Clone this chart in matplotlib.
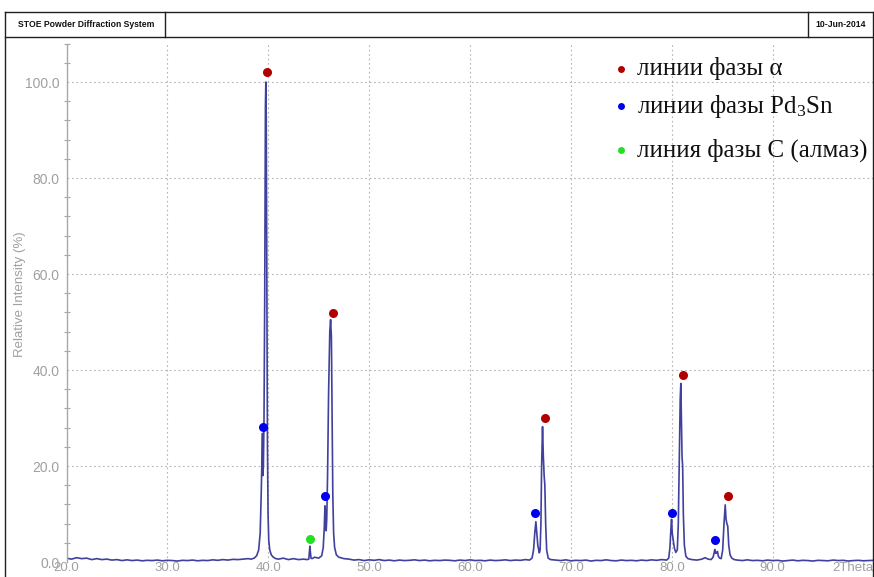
import numpy as np
import matplotlib
matplotlib.use("Agg")
import matplotlib.pyplot as plt
from matplotlib.ticker import FixedLocator, MultipleLocator
from matplotlib.lines import Line2D

plt.rcParams['font.family'] = ['Liberation Sans', 'DejaVu Sans']
plt.rcParams['mathtext.fontset'] = 'custom'
plt.rcParams['mathtext.rm'] = 'Liberation Serif'
plt.rcParams['mathtext.it'] = 'Liberation Serif:italic'

# ---- measured pattern: 2Theta (deg) vs relative intensity (%) ----
# background stretches, sampled every 0.5 deg
bg1_theta = np.arange(20.0, 38.01, 0.5)
bg1_int = [0.8, 0.6, 0.9, 0.7, 0.8, 0.5, 0.7, 0.5, 0.6, 0.4, 0.5, 0.3, 0.45,
           0.3, 0.4, 0.25, 0.35, 0.3, 0.4, 0.25, 0.35, 0.3, 0.2, 0.35, 0.3,
           0.4, 0.25, 0.35, 0.3, 0.45, 0.35, 0.5, 0.4, 0.55, 0.5, 0.6, 0.7]
bg2_theta = np.arange(41.0, 43.51, 0.5)
bg2_int = [0.6, 0.8, 0.5, 0.7, 0.5, 0.6]
bg3_theta = np.arange(48.0, 65.51, 0.5)
bg3_int = [0.6, 0.4, 0.5, 0.3, 0.45, 0.35, 0.5, 0.3, 0.4, 0.25, 0.4, 0.3,
           0.35, 0.45, 0.3, 0.4, 0.25, 0.35, 0.3, 0.4, 0.35, 0.25, 0.4, 0.3,
           0.45, 0.3, 0.35, 0.25, 0.4, 0.3, 0.35, 0.45, 0.3, 0.4, 0.35, 0.5]
bg4_theta = np.arange(68.5, 79.01, 0.5)
bg4_int = [0.4, 0.3, 0.45, 0.25, 0.35, 0.3, 0.4, 0.2, 0.35, 0.3, 0.45, 0.3,
           0.25, 0.4, 0.3, 0.35, 0.25, 0.4, 0.3, 0.45, 0.35, 0.5]
bg5_theta = np.arange(86.5, 100.01, 0.5)
bg5_int = [0.4, 0.3, 0.45, 0.3, 0.35, 0.25, 0.4, 0.3, 0.35, 0.2, 0.3, 0.4,
           0.25, 0.35, 0.3, 0.2, 0.35, 0.3, 0.25, 0.4, 0.3, 0.35, 0.2, 0.3,
           0.35, 0.25, 0.3, 0.35]

# peak groups
pk1_theta = [38.3, 38.6, 38.85, 39.05, 39.2, 39.3, 39.38, 39.43, 39.47, 39.52,
             39.58, 39.65, 39.72, 39.76, 39.80, 39.86, 39.92, 39.98, 40.05,
             40.15, 40.3, 40.5, 40.75]
pk1_int = [0.6, 0.8, 1.3, 2.5, 6.0, 14.0, 22.0, 26.8, 18.0, 20.0,
           30.0, 55.0, 95.0, 100.0, 93.0, 60.0, 25.0, 10.0, 4.5,
           2.5, 1.5, 1.0, 0.7]
pk2_theta = [43.85, 44.02, 44.08, 44.13, 44.18, 44.24, 44.35, 44.6, 45.0,
             45.3, 45.45, 45.55, 45.62, 45.68, 45.74, 45.80, 45.88, 45.98,
             46.10, 46.18, 46.26, 46.33, 46.40, 46.48, 46.58, 46.75, 47.0,
             47.5]
pk2_int = [0.5, 0.6, 2.0, 3.3, 2.0, 0.8, 0.7, 1.0, 0.8,
           1.3, 3.0, 7.0, 11.7, 10.0, 6.5, 9.0, 18.0, 35.0,
           48.0, 50.5, 47.0, 30.0, 14.0, 6.0, 3.0, 1.5, 1.0,
           0.7]
pk3_theta = [65.9, 66.15, 66.3, 66.42, 66.53, 66.62, 66.72, 66.87, 66.95,
             67.03, 67.10, 67.19, 67.27, 67.35, 67.42, 67.50, 67.60, 67.75,
             68.0]
pk3_int = [0.4, 0.8, 2.5, 6.0, 8.4, 6.0, 3.5, 1.9, 2.5,
           8.0, 20.0, 28.2, 22.0, 18.0, 16.0, 8.0, 2.5, 0.8,
           0.5]
pk4_theta = [79.5, 79.7, 79.82, 79.92, 79.98, 80.05, 80.14, 80.25, 80.40,
             80.55, 80.65, 80.75, 80.84, 80.90, 80.96, 81.02, 81.08, 81.15,
             81.25, 81.40, 81.6]
pk4_int = [0.4, 0.8, 3.0, 7.0, 8.9, 6.0, 4.6, 3.0, 2.0,
           2.5, 8.0, 22.0, 34.0, 37.2, 30.0, 22.0, 20.0, 10.0,
           3.5, 1.2, 0.7]
pk5_theta = [82.0, 82.5, 83.0, 83.3, 83.6, 83.9, 84.1, 84.2, 84.27, 84.35,
             84.45, 84.53, 84.62, 84.75, 84.9, 85.05, 85.18, 85.30, 85.38,
             85.46, 85.55, 85.65, 85.78, 85.95, 86.2]
pk5_int = [0.5, 0.4, 0.6, 0.9, 0.6, 0.5, 1.0, 2.0, 2.6, 1.8,
           1.9, 2.2, 1.2, 0.8, 0.7, 2.5, 8.0, 11.9, 9.0,
           8.0, 7.5, 3.5, 1.5, 0.8, 0.5]

two_theta = np.concatenate([bg1_theta, pk1_theta, bg2_theta, pk2_theta,
                            bg3_theta, pk3_theta, bg4_theta, pk4_theta,
                            pk5_theta, bg5_theta])
intensity = np.concatenate([bg1_int, pk1_int, bg2_int, pk2_int,
                            bg3_int, pk3_int, bg4_int, pk4_int,
                            pk5_int, bg5_int])

# ---- phase line markers ----
alpha_theta = [39.87, 46.41, 67.42, 81.07, 85.53]
alpha_int = [102.1, 51.9, 30.0, 39.0, 13.75]
pd3sn_theta = [39.47, 45.62, 66.43, 79.98, 84.27]
pd3sn_int = [28.1, 13.75, 10.2, 10.2, 4.6]
diamond_theta = [44.13]
diamond_int = [4.8]

legend_labels = ['линии фазы α', 'линии фазы Pd$_3$Sn', 'линия фазы С (алмаз)']
legend_colors = ['#b00000', '#0000f0', '#22e022']

x_ticks = [20, 30, 40, 50, 60, 70, 80, 90, 100]
x_ticklabels = ['20.0', '30.0', '40.0', '50.0', '60.0', '70.0', '80.0', '90.0', '2Theta']
y_ticks = [0, 20, 40, 60, 80, 100]
y_ticklabels = ['0.0', '20.0', '40.0', '60.0', '80.0', '100.0']

W, H = 874, 577
fig = plt.figure(figsize=(W / 100, H / 100), dpi=100)
fig.patch.set_facecolor('white')


def fx(px):
    return px / W


def fy(py):
    return 1 - py / H


ax_left, ax_right, ax_top, ax_bottom = 66.5, 873.5, 43.6, 562
ax = fig.add_axes([fx(ax_left), fy(ax_bottom), fx(ax_right - ax_left),
                   (ax_bottom - ax_top) / H])
ax.set_xlim(20, 100)
ax.set_ylim(0, 108)

grid_kw = dict(color='#b4b4b4', lw=0.8, ls=(0, (1.5, 2.5)), zorder=0)
for xv in x_ticks[1:-1]:
    ax.axvline(xv, **grid_kw)
for yv in y_ticks[1:]:
    ax.axhline(yv, **grid_kw)

ax.plot(two_theta, intensity, color='#40409e', lw=1.2, zorder=2)

ax.plot(alpha_theta, alpha_int, 'o', color=legend_colors[0], ms=6.5, mec='none', zorder=3)
ax.plot(pd3sn_theta, pd3sn_int, 'o', color=legend_colors[1], ms=6.5, mec='none', zorder=3)
ax.plot(diamond_theta, diamond_int, 'o', color=legend_colors[2], ms=6.5, mec='none', zorder=3)

for s in ['top', 'right', 'bottom']:
    ax.spines[s].set_visible(False)
ax.spines['left'].set_color('#a8a8a8')
ax.spines['left'].set_linewidth(1.0)

ax.xaxis.set_major_locator(FixedLocator(x_ticks))
ax.set_xticklabels(x_ticklabels)
ax.yaxis.set_major_locator(FixedLocator(y_ticks))
ax.set_yticklabels(y_ticklabels)
ax.yaxis.set_minor_locator(MultipleLocator(4))
ax.tick_params(axis='x', length=0, pad=0, labelsize=9.5, labelcolor='#a0a0a0')
ax.tick_params(axis='y', which='major', length=0, pad=5, labelsize=10,
               labelcolor='#a0a0a0')
ax.tick_params(axis='y', which='minor', length=4, width=0.8, color='#a8a8a8',
               direction='inout')
ax.get_xticklabels()[-1].set_horizontalalignment('right')
ax.set_facecolor('none')

fig.text(fx(20), fy(294), 'Relative Intensity (%)', rotation=90, ha='center',
         va='center', fontsize=9.5, color='#a0a0a0')

# legend drawn as free text
legend_rows = [69, 106, 150]
for lab, col, ry in zip(legend_labels, legend_colors, legend_rows):
    fig.add_artist(Line2D([fx(621)], [fy(ry)], marker='o', ms=5, color=col,
                          mec='none', transform=fig.transFigure))
    fig.text(fx(637), fy(ry), lab, fontsize=18, va='center', ha='left',
             family=['Liberation Serif', 'DejaVu Serif'], color='#111111')

# page frame and header strip
frame_kw = dict(color='#202020', lw=1.0, transform=fig.transFigure)
fig.add_artist(Line2D([fx(5), fx(873)], [fy(12), fy(12)], **frame_kw))
fig.add_artist(Line2D([fx(5), fx(873)], [fy(37), fy(37)], **frame_kw))
fig.add_artist(Line2D([fx(5), fx(5)], [fy(12), fy(577)], **frame_kw))
fig.add_artist(Line2D([fx(873), fx(873)], [fy(12), fy(577)], **frame_kw))
fig.add_artist(Line2D([fx(165), fx(165)], [fy(12), fy(37)], **frame_kw))
fig.add_artist(Line2D([fx(808), fx(808)], [fy(12), fy(37)], **frame_kw))
fig.text(fx(18), fy(24.5), 'STOE Powder Diffraction System', fontsize=6.2,
         weight='bold', va='center', ha='left', color='#111111')
fig.text(fx(815), fy(24.5), '10-Jun-2014', fontsize=6.2, weight='bold',
         va='center', ha='left', color='#111111')

fig.savefig('out.png', dpi=100, facecolor='white')
